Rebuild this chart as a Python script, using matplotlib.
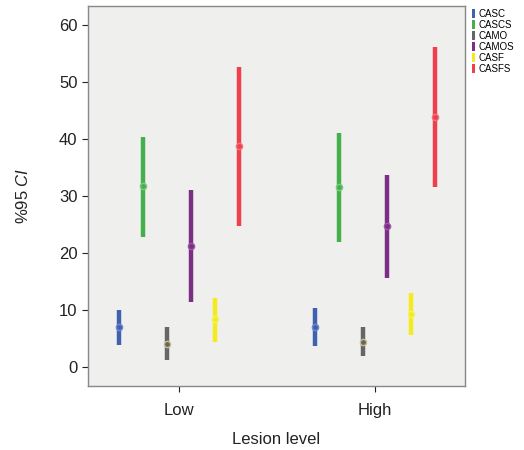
import matplotlib
matplotlib.use("Agg")
import matplotlib.pyplot as plt
from matplotlib.patches import Patch

plt.rcParams['font.family'] = ['Liberation Sans', 'DejaVu Sans']
plt.rcParams['mathtext.fontset'] = 'custom'
plt.rcParams['mathtext.rm'] = 'Liberation Sans'
plt.rcParams['mathtext.it'] = 'Liberation Sans:italic'

# groups and series
levels = ["Low", "High"]
series = ["CASC", "CASCS", "CAMO", "CAMOS", "CASF", "CASFS"]
colors = ["#4060b0", "#45b04b", "#666666", "#7c2d85", "#f5eb1c", "#ef3f4b"]
marker_edges = ["#6f8acb", "#7cc982", "#c9c08a", "#9b5aa3", "#f8f06a", "#f27680"]

# means and 95% CI bounds, per series, [Low, High]
means = [[7.0, 7.1], [31.7, 31.5], [4.15, 4.5], [21.3, 24.7], [8.4, 9.35], [38.7, 43.9]]
lower = [[3.9, 3.75], [22.9, 21.9], [1.35, 1.95], [11.5, 15.7], [4.5, 5.7], [24.7, 31.6]]
upper = [[10.1, 10.35], [40.4, 41.0], [7.0, 7.05], [31.0, 33.7], [12.1, 13.0], [52.6, 56.1]]

fig = plt.figure(figsize=(5.24, 4.5), dpi=100)
ax = fig.add_axes([0.168, 0.142, 0.719, 0.845])
ax.set_facecolor("#efefee")

step = 0.1225
for i, name in enumerate(series):
    off = (i - 2.5) * step
    for g in range(len(levels)):
        x = g + off
        ax.plot([x, x], [lower[i][g], upper[i][g]], color=colors[i], lw=3.2,
                solid_capstyle="butt", zorder=2)
        ax.plot(x, means[i][g], "o", ms=4.5, mfc=colors[i], mec=marker_edges[i],
                mew=1.0, zorder=3)

ax.set_xlim(-0.464, 1.459)
ax.set_ylim(-3.3, 63.3)
ax.set_xticks(range(len(levels)))
ax.set_xticklabels(levels)
ax.set_yticks(range(0, 61, 10))
ax.tick_params(axis="both", labelsize=12, colors="#222222", length=4, width=0.8)
ax.tick_params(axis="x", pad=8)
for s in ax.spines.values():
    s.set_color("#888888")
    s.set_linewidth(1.0)

ax.set_xlabel("Lesion level", fontsize=12, color="#222222", labelpad=10)
ax.set_ylabel(r"%95 $\mathit{CI}$", fontsize=12, color="#222222", labelpad=20)

handles = [Patch(facecolor=c, edgecolor="none") for c in colors]
ax.legend(handles, series, loc="upper left", bbox_to_anchor=(1.0, 1.01),
          frameon=False, fontsize=7, handlelength=0.35, handleheight=1.0,
          handletextpad=0.4, labelspacing=0.1, borderaxespad=0.3)

fig.savefig("out.png", dpi=100)
plt.close()
